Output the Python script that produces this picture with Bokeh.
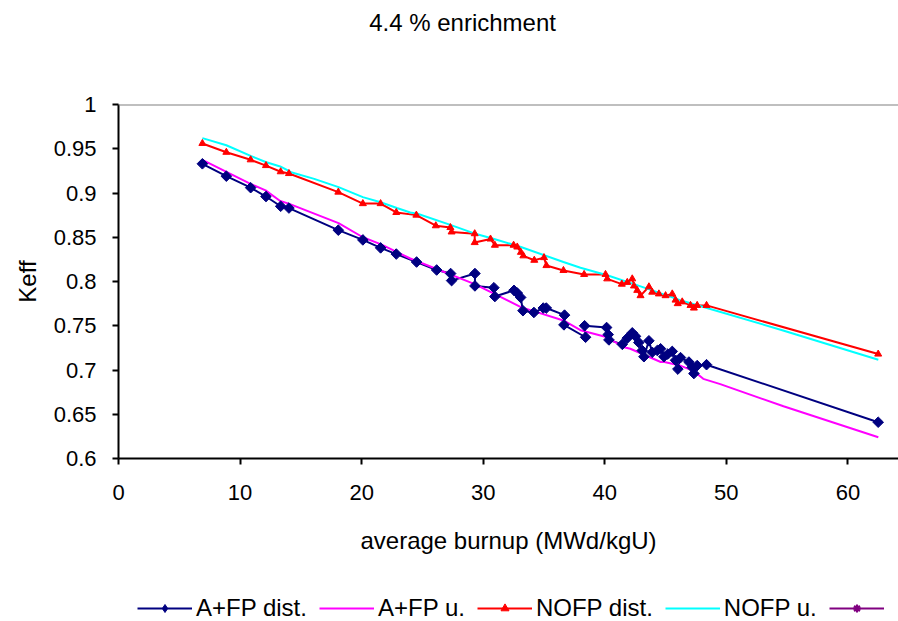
import math
from bokeh.plotting import figure
from bokeh.layouts import column
from bokeh.models import (Range1d, FixedTicker, Span, Label, Legend, LegendItem,
                          CustomJSTickFormatter)
from bokeh.embed import file_html
from bokeh.resources import INLINE

# ---------------- data ----------------
title_text = "4.4 % enrichment"
x_label = "average burnup (MWd/kgU)"
y_label = "Keff"
x_ticks = [0, 10, 20, 30, 40, 50, 60]
y_ticks = [0.6, 0.65, 0.7, 0.75, 0.8, 0.85, 0.9, 0.95, 1.0]
series_names = ["A+FP dist.", "A+FP u.", "NOFP dist.", "NOFP u.", ""]

afp_dist_x = [6.9, 8.87, 10.87, 12.13, 13.34, 14.02, 18.08, 20.1, 21.56, 22.85,
              24.52, 26.17, 27.32, 27.40, 29.32, 29.32, 30.88, 30.96, 32.53, 32.8,
              33.08, 33.27, 34.17, 34.94, 35.19, 36.69, 36.64, 38.42, 38.34, 40.15,
              40.28, 40.34, 41.44, 41.85, 42.26, 42.53, 42.80, 43.08, 43.22, 43.63,
              43.9, 44.32, 44.59, 44.86, 45.19, 45.55, 45.82, 46.01, 46.23, 46.92,
              47.19, 47.33, 47.6, 48.37, 62.49]
afp_dist_y = [0.933, 0.919, 0.906, 0.896, 0.885, 0.883, 0.858, 0.847, 0.838, 0.831,
              0.822, 0.813, 0.809, 0.801, 0.809, 0.795, 0.793, 0.783, 0.790, 0.787,
              0.782, 0.767, 0.765, 0.770, 0.770, 0.762, 0.751, 0.737, 0.750, 0.748,
              0.740, 0.734, 0.729, 0.736, 0.742, 0.738, 0.731, 0.722, 0.715, 0.733,
              0.720, 0.722, 0.724, 0.715, 0.718, 0.721, 0.711, 0.701, 0.714, 0.709,
              0.703, 0.696, 0.705, 0.706, 0.641]

afp_u_x = [6.9, 10.9, 12.1, 13.3, 14.0, 18.1, 20.1, 21.6, 24.0, 29.3,
           33.1, 36.6, 38.0, 40.2, 41.5, 42.1, 44.6, 44.9, 46.2, 47.3,
           48.1, 49.5, 54.7, 62.5]
afp_u_y = [0.9375, 0.910, 0.903, 0.891, 0.888, 0.866, 0.850, 0.842, 0.826, 0.797,
           0.771, 0.756, 0.745, 0.737, 0.726, 0.724, 0.709, 0.709, 0.705, 0.699,
           0.690, 0.684, 0.659, 0.624]

nofp_dist_x = [6.9, 8.87, 10.87, 12.13, 13.34, 14.02, 18.08, 20.1, 21.56, 22.85,
               24.5, 26.1, 27.3, 27.4, 29.3, 29.3, 30.6, 30.96, 32.5, 32.8,
               33.1, 33.3, 34.2, 35.0, 35.2, 36.6, 38.3, 40.06, 40.2, 41.4,
               41.85, 42.26, 42.4, 42.67, 42.94, 43.63, 43.9, 44.45, 45.0, 45.55,
               45.82, 46.0, 46.37, 47.05, 47.33, 47.6, 48.37, 62.49]
nofp_dist_y = [0.956, 0.946, 0.9375, 0.931, 0.924, 0.922, 0.901, 0.888, 0.888, 0.878,
               0.875, 0.863, 0.861, 0.856, 0.854, 0.844, 0.848, 0.841, 0.841, 0.839,
               0.833, 0.829, 0.824, 0.827, 0.818, 0.8125, 0.808, 0.808, 0.803, 0.797,
               0.799, 0.803, 0.795, 0.790, 0.784, 0.794, 0.788, 0.786, 0.784, 0.786,
               0.779, 0.775, 0.777, 0.773, 0.770, 0.773, 0.773, 0.718]

nofp_u_x = [6.9, 8.87, 10.87, 12.1, 13.3, 14.2, 16.1, 18.1, 20.1, 21.56,
            22.9, 24.0, 24.6, 27.3, 29.2, 30.9, 33.1, 36.6, 38.0, 40.2,
            43.5, 46.2, 48.4, 54.6, 62.5]
nofp_u_y = [0.962, 0.954, 0.942, 0.935, 0.930, 0.9235, 0.916, 0.9066, 0.8953, 0.8896,
            0.883, 0.878, 0.8765, 0.864, 0.8546, 0.848, 0.839, 0.822, 0.8155, 0.807,
            0.792, 0.779, 0.770, 0.745, 0.7115]

# the fifth series has no values (legend entry only)
empty_x = [math.nan]
empty_y = [math.nan]

FONT = "Liberation Sans"
COLORS = ["#000080", "#FF00FF", "#FF0000", "#00FFFF", "#800080"]


def plain(fig):
    fig.outline_line_color = None
    fig.grid.visible = False
    fig.background_fill_color = "white"
    fig.border_fill_color = "white"


# ---------------- title strip ----------------
t = figure(width=898, height=90, output_backend="svg", toolbar_location=None,
           x_axis_type=None, y_axis_type=None,
           x_range=Range1d(0, 64.16), y_range=Range1d(0, 90),
           min_border_left=118, min_border_right=0, min_border_top=0,
           min_border_bottom=0)
plain(t)
t.add_layout(Label(x=28.3, y=68, text=title_text, text_align="center",
                   text_baseline="middle", text_font=FONT, text_font_size="24px",
                   text_color="black"))

# ---------------- main figure ----------------
p = figure(width=898, height=480, output_backend="svg", toolbar_location=None,
           x_range=t.x_range, y_range=Range1d(y_ticks[0], y_ticks[-1]),
           min_border_left=118, min_border_right=0, min_border_top=14,
           min_border_bottom=112)
plain(p)

for ax in (p.xaxis[0], p.yaxis[0]):
    ax.axis_line_color = "black"
    ax.axis_line_width = 2
    ax.major_tick_line_color = "black"
    ax.major_tick_line_width = 2
    ax.major_tick_out = 6
    ax.major_tick_in = 0
    ax.minor_tick_out = 0
    ax.minor_tick_in = 0
    ax.major_label_text_font = FONT
    ax.major_label_text_font_size = "22px"
    ax.major_label_text_color = "black"
    ax.axis_label_text_font = FONT
    ax.axis_label_text_font_size = "24px"
    ax.axis_label_text_font_style = "normal"
    ax.axis_label_text_color = "black"

p.xaxis.ticker = FixedTicker(ticks=x_ticks)
p.yaxis.ticker = FixedTicker(ticks=y_ticks)
p.yaxis.formatter = CustomJSTickFormatter(code="return Number(tick.toFixed(2)).toString();")
p.xaxis.major_label_standoff = 20
p.yaxis.major_label_standoff = 16

p.yaxis.axis_label = y_label
p.yaxis.axis_label_standoff = 10
p.xaxis.axis_label = x_label
p.xaxis.axis_label_standoff = 24

p.add_layout(Span(location=y_ticks[-1], dimension="width", line_color="#808080",
                  line_width=2))

# lines
p.line(afp_dist_x, afp_dist_y, line_color=COLORS[0], line_width=2)
p.line(afp_u_x, afp_u_y, line_color=COLORS[1], line_width=2)
p.line(nofp_dist_x, nofp_dist_y, line_color=COLORS[2], line_width=2)
p.line(nofp_u_x, nofp_u_y, line_color=COLORS[3], line_width=2)

# markers
p.scatter(afp_dist_x, afp_dist_y, marker="square", angle=math.pi / 4, size=7.5,
          fill_color=COLORS[0], line_color=COLORS[0])
p.scatter(nofp_dist_x, nofp_dist_y, marker="triangle", size=7,
          fill_color=COLORS[2], line_color=COLORS[2])

# ---------------- legend strip ----------------
q = figure(width=898, height=51, output_backend="svg", toolbar_location=None,
           x_axis_type=None, y_axis_type=None,
           x_range=Range1d(0, 1), y_range=Range1d(0, 1),
           min_border_left=118, min_border_right=0, min_border_top=0,
           min_border_bottom=0)
plain(q)

g1 = q.line(empty_x, empty_y, line_color=COLORS[0], line_width=2)
k1 = q.scatter(empty_x, empty_y, marker="diamond", size=11,
               fill_color=COLORS[0], line_color=COLORS[0])
g2 = q.line(empty_x, empty_y, line_color=COLORS[1], line_width=2)
g3 = q.line(empty_x, empty_y, line_color=COLORS[2], line_width=2)
k3 = q.scatter(empty_x, empty_y, marker="triangle", size=6,
               fill_color=COLORS[2], line_color=COLORS[2])
g4 = q.line(empty_x, empty_y, line_color=COLORS[3], line_width=2)
g5 = q.line(empty_x, empty_y, line_color=COLORS[4], line_width=2)
k5 = q.scatter(empty_x, empty_y, marker="asterisk", size=18,
               line_color=COLORS[4], line_width=2)

items = [
    LegendItem(label=series_names[0], renderers=[g1, k1]),
    LegendItem(label=series_names[1], renderers=[g2]),
    LegendItem(label=series_names[2], renderers=[g3, k3]),
    LegendItem(label=series_names[3], renderers=[g4]),
    LegendItem(label=series_names[4], renderers=[g5, k5]),
]
legend = Legend(items=items, location=(19, -1), orientation="horizontal",
                glyph_width=55, glyph_height=20, label_standoff=4, spacing=12,
                padding=0, margin=0, border_line_color=None, background_fill_alpha=0,
                label_text_font=FONT, label_text_font_size="24px",
                label_text_color="black")
q.add_layout(legend)

layout = column(t, p, q, spacing=0)
open("out.html", "w").write(file_html(layout, INLINE))
